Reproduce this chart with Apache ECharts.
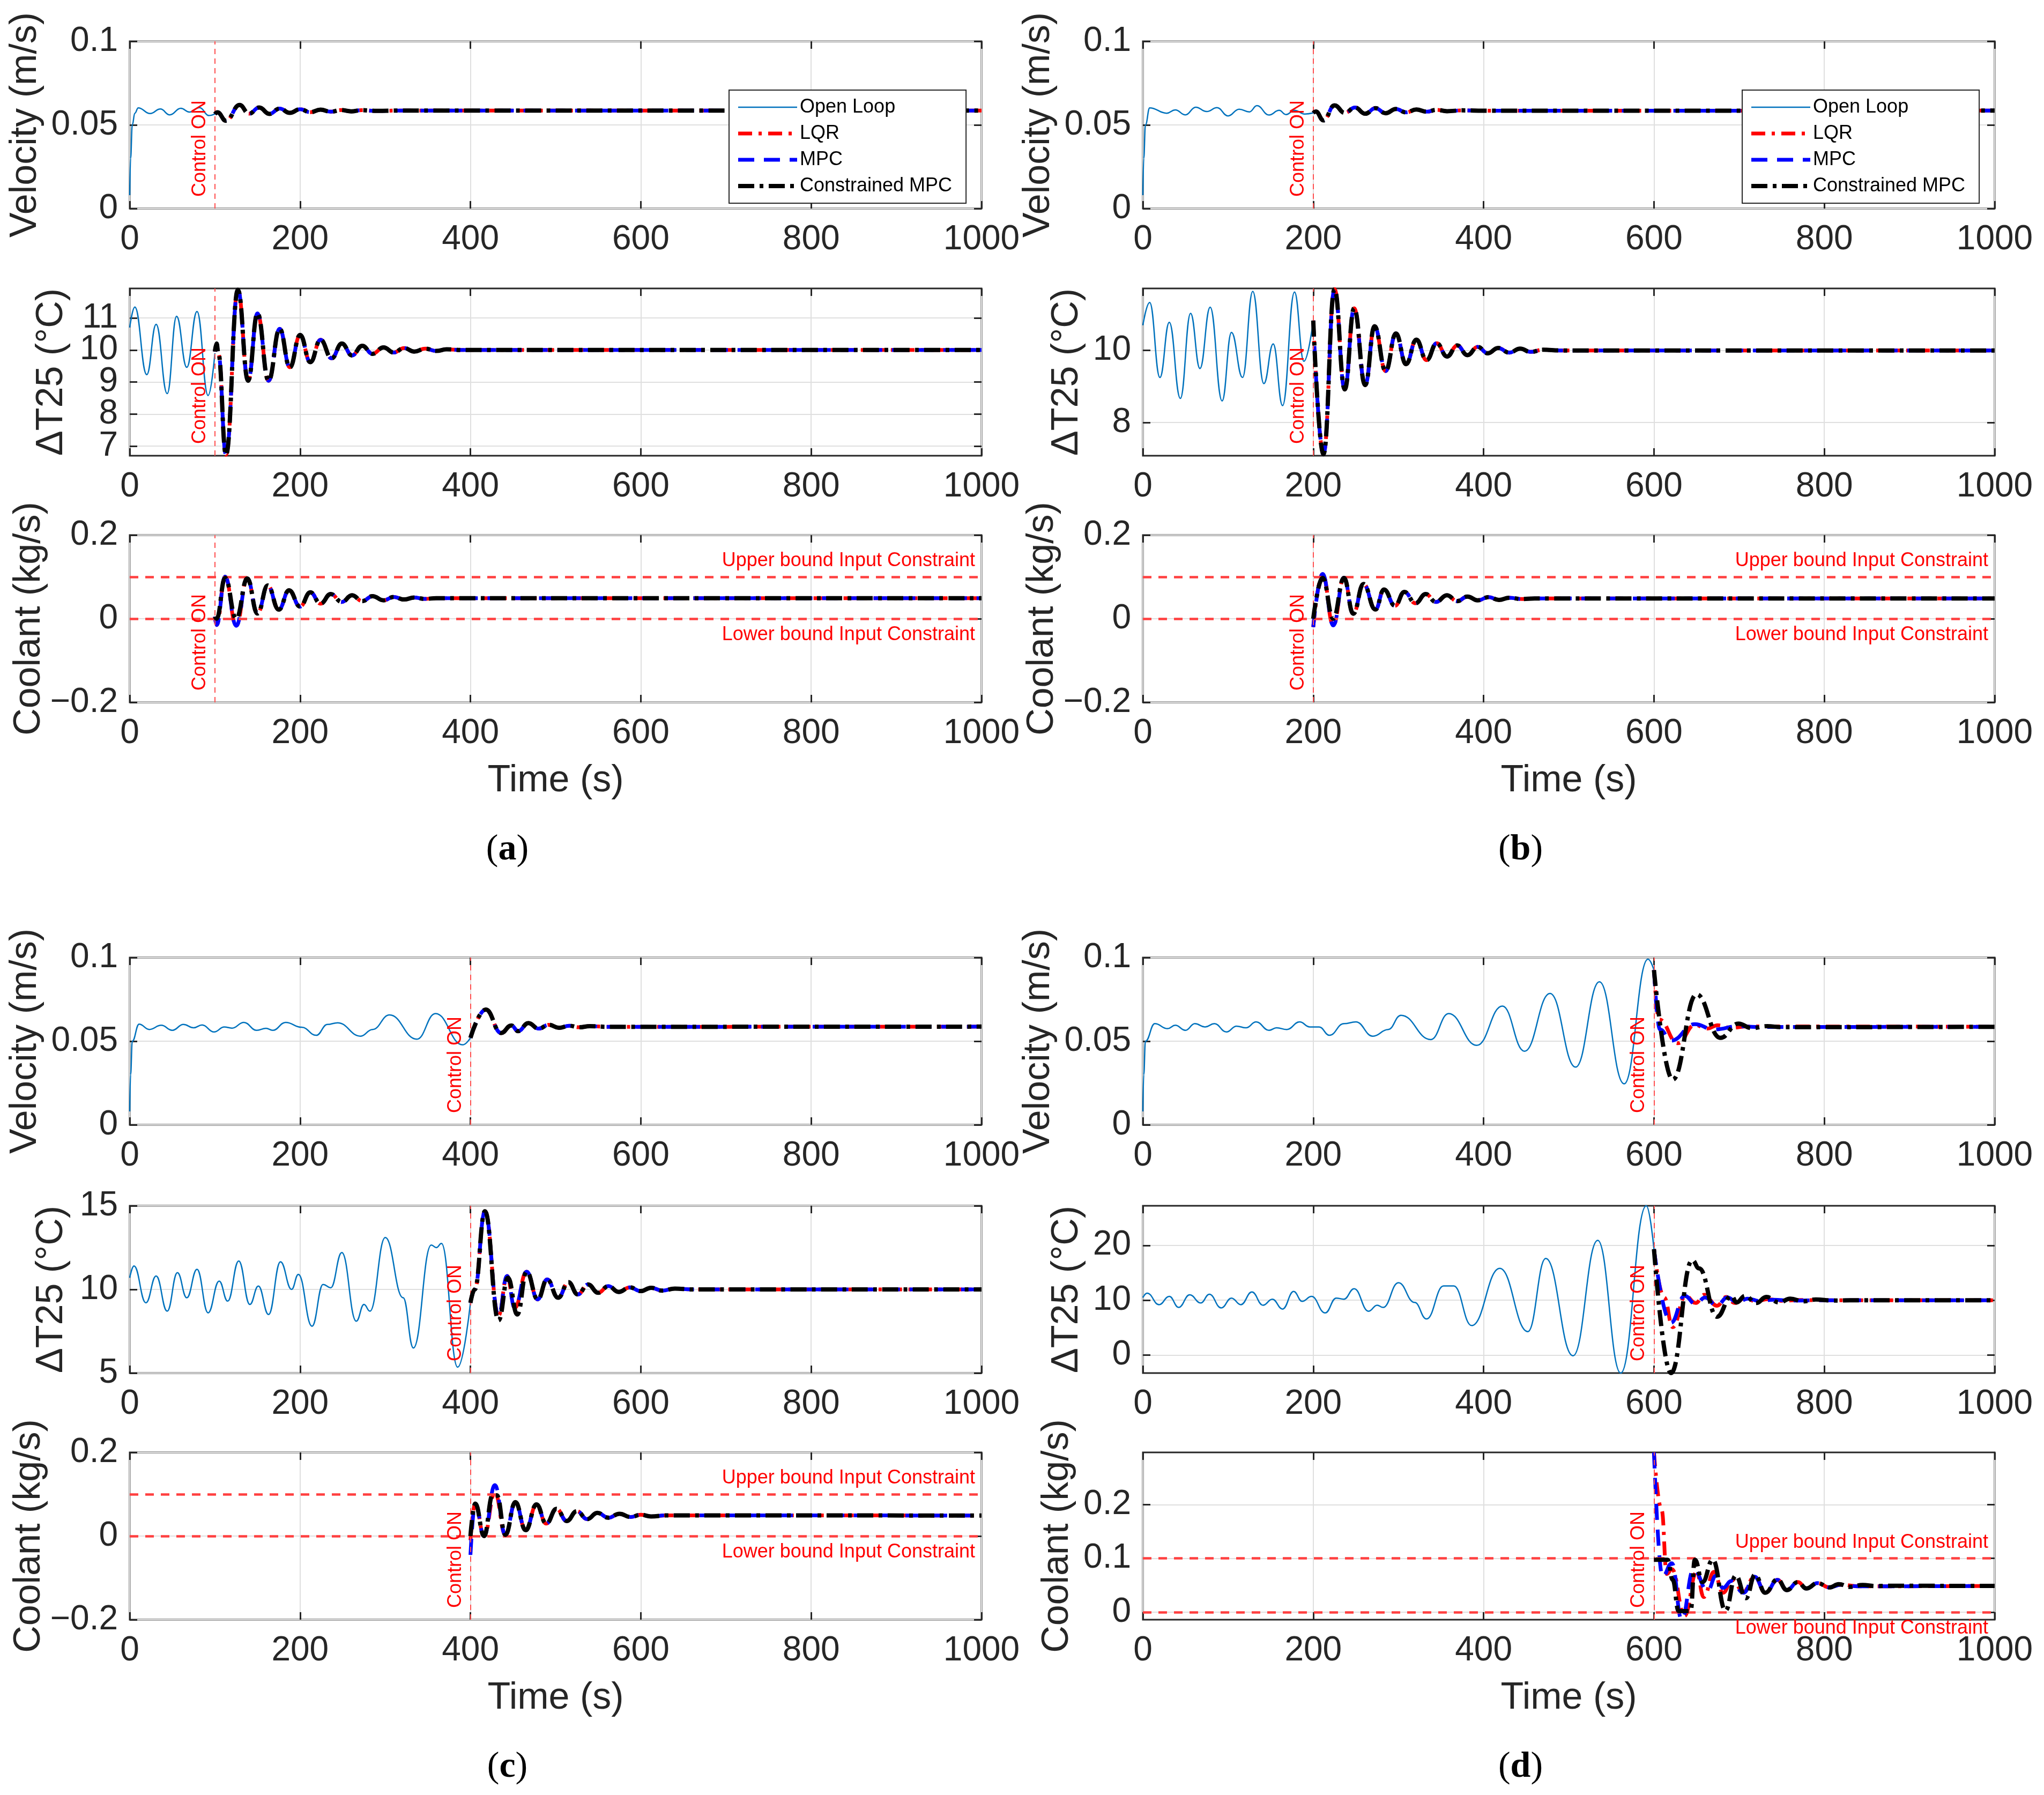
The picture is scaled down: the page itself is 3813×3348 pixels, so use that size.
<!DOCTYPE html>
<html>
<head>
<meta charset="utf-8">
<script src="https://cdn.jsdelivr.net/npm/echarts@6/dist/echarts.min.js"></script>
<style>html,body{margin:0;padding:0;background:#fff}#chart{width:3813px;height:3348px}</style>
</head>
<body>
<div id="chart"></div>
<script>
// ---------- values ([time s, value]) ----------
var timeTicks = [0, 200, 400, 600, 800, 1000]
var velTicks = [0, 0.05, 0.1]
var velRange = [0, 0.1]
var coolTicks = [-0.2, 0, 0.2]
var coolRange = [-0.2, 0.2]
var coolTicksD = [0, 0.1, 0.2]
var coolRangeD = [-0.014, 0.297]
var dtTicksA = [7, 8, 9, 10, 11]
var dtRangeA = [6.7, 11.92]
var dtTicksB = [8, 10]
var dtRangeB = [7.08, 11.72]
var dtTicksC = [5, 10, 15]
var dtRangeC = [5, 15]
var dtTicksD = [0, 10, 20]
var dtRangeD = [-3.25, 27.2]
var boundValues = [0.0975, 0]
var controlTimes = [100, 200, 400, 600]

// (a) control on at 100 s
var A_velOpen = [[0,0.008],[1,0.03],[3,0.05],[6,0.057],[10,0.0602],[24,0.0568],[36,0.0595],[47,0.056],[60,0.0599],[70,0.0577],[82,0.0603],[93,0.0556],[100,0.0565]]
var A_velCtrl = [[100,0.0565],[103,0.0575],[113,0.0525],[129,0.0619],[140,0.0567],[152,0.0604],[164,0.0566],[176,0.0598],[188,0.0572],[200,0.0594],[212,0.0576],[224,0.0591],[236,0.0579],[248,0.0589],[260,0.0581],[272,0.0588],[290,0.0584],[320,0.0586],[1000,0.0586]]
var A_dtOpen = [[0,10.7],[6,11.34],[20,9.23],[31,10.8],[44,8.64],[55,11.05],[67,9.46],[79,11.2],[92,8.58],[100,9.9]]
var A_dtCtrl = [[100,9.95],[102,10.2],[104,9.9],[113,6.73],[127,11.88],[139,9.04],[150,11.14],[163,9.04],[176,10.66],[188,9.46],[200,10.47],[212,9.62],[224,10.32],[237,9.74],[249,10.2],[261,9.83],[273,10.13],[285,9.88],[298,10.08],[310,9.92],[322,10.06],[334,9.95],[347,10.04],[360,9.97],[372,10.02],[390,10],[1000,10]]
var A_coolCtrl = [[100,0.005],[102,-0.015],[112,0.1006],[125,-0.017],[138,0.096],[150,0.0124],[162,0.0795],[175,0.0217],[187,0.068],[200,0.029],[212,0.063],[224,0.036],[236,0.059],[249,0.040],[261,0.056],[273,0.042],[285,0.054],[298,0.044],[310,0.052],[322,0.046],[334,0.0505],[346,0.0475],[360,0.049],[1000,0.049]]
var A_coolCons = [[100,0.005],[102,0],[112,0.0975],[125,0],[138,0.096],[150,0.0124],[162,0.0795],[175,0.0217],[187,0.068],[200,0.029],[212,0.063],[224,0.036],[236,0.059],[249,0.040],[261,0.056],[273,0.042],[285,0.054],[298,0.044],[310,0.052],[322,0.046],[334,0.0505],[346,0.0475],[360,0.049],[1000,0.049]]

// (b) control on at 200 s
var B_velOpen = [[0,0.008],[1,0.03],[3,0.05],[8,0.0602],[28,0.057],[38,0.059],[50,0.056],[62,0.0606],[75,0.058],[87,0.0603],[100,0.0554],[113,0.0594],[125,0.0578],[134,0.0615],[148,0.0559],[160,0.0587],[168,0.0562],[178,0.0587],[190,0.0565],[200,0.0572]]
var B_velCtrl = [[200,0.0572],[203,0.058],[212,0.0527],[225,0.0617],[237,0.0572],[249,0.0604],[261,0.0567],[273,0.06],[285,0.057],[297,0.0595],[309,0.0575],[321,0.0592],[333,0.0579],[345,0.059],[357,0.0582],[375,0.0587],[400,0.0585],[1000,0.0586]]
var B_dtOpen = [[0,10.7],[8,11.33],[20,9.25],[31,10.78],[44,8.67],[56,11.03],[67,9.5],[79,11.2],[93,8.6],[104,10.5],[117,9.25],[129,11.64],[142,9.08],[153,10.18],[164,8.47],[178,11.62],[189,9.7],[200,10.83]]
var B_dtCtrl = [[200,10.83],[212,7.12],[225,11.7],[237,8.92],[248,11.17],[261,9.04],[272,10.67],[285,9.43],[297,10.47],[309,9.62],[321,10.3],[333,9.73],[345,10.2],[357,9.83],[369,10.14],[381,9.87],[393,10.1],[405,9.92],[417,10.07],[430,9.94],[443,10.05],[455,9.96],[470,10.02],[490,10],[1000,10]]
var B_coolCtrl = [[200,-0.02],[211,0.107],[223.5,-0.016],[236,0.098],[247,0.012],[259,0.083],[273,0.022],[283,0.070],[296,0.031],[307,0.064],[320,0.037],[332,0.059],[344,0.040],[357,0.056],[369,0.042],[381,0.053],[393,0.044],[406,0.0515],[418,0.045],[430,0.05],[445,0.047],[460,0.0485],[1000,0.0485]]
var B_coolCons = [[200,0],[211,0.0975],[223.5,0],[236,0.0975],[247,0.012],[259,0.083],[273,0.022],[283,0.070],[296,0.031],[307,0.064],[320,0.037],[332,0.059],[344,0.040],[357,0.056],[369,0.042],[381,0.053],[393,0.044],[406,0.0515],[418,0.045],[430,0.05],[445,0.047],[460,0.0485],[1000,0.0485]]

// (c) control on at 400 s
var C_velOpen = [[0,0.008],[1,0.03],[3,0.05],[11,0.0602],[23,0.057],[37,0.0595],[50,0.0565],[63,0.06],[75,0.058],[85,0.0597],[99,0.0555],[111,0.0585],[120,0.0578],[134,0.0612],[149,0.0565],[160,0.0577],[168,0.0565],[183,0.0612],[202,0.0583],[219,0.0535],[232,0.06],[244,0.061],[271,0.053],[285,0.057],[305,0.0657],[337,0.0512],[359,0.0665],[391,0.0478],[400,0.052]]
var C_velCtrl = [[400,0.052],[418,0.0689],[436,0.0549],[448,0.0594],[456,0.056],[468,0.0608],[480,0.0575],[492,0.0598],[504,0.058],[516,0.0592],[528,0.0583],[540,0.059],[560,0.0586],[1000,0.0587]]
var C_dtOpen = [[0,10.7],[5,11.4],[19,9.2],[31,10.8],[44,8.7],[56,11.0],[67,9.5],[79,11.2],[92,8.6],[105,10.5],[115,9.3],[128,11.7],[141,9.1],[151,10.2],[163,8.5],[177,11.65],[190,10.0],[198,10.9],[214,7.8],[227,10.3],[236,10.1],[249,12.2],[266,8.1],[275,9.1],[282,8.7],[300,13.1],[321,9.5],[333,6.5],[354,12.65],[360,12.5],[366,12.75],[385,5.35],[400,9.2]]
var C_dtCtrl = [[400,9.2],[405,10.0],[417,14.67],[433,8.45],[443,10.8],[452,8.9],[466,11.06],[479,9.4],[490,10.6],[503,9.5],[515,10.43],[526,9.7],[538,10.3],[550,9.8],[562,10.2],[574,9.85],[587,10.12],[600,9.9],[612,10.1],[625,9.93],[640,10.05],[660,10],[1000,10]]
var C_dtCons = [[400,9.2],[405,10.0],[417,14.67],[433,8.15],[444,10.7],[455,8.5],[466,11.06],[479,9.4],[490,10.6],[503,9.5],[515,10.43],[526,9.7],[538,10.3],[550,9.8],[562,10.2],[574,9.85],[587,10.12],[600,9.9],[612,10.1],[625,9.93],[640,10.05],[660,10],[1000,10]]
var C_coolLqr = [[400,-0.01],[405.6,0.0776],[416,0.0],[428.7,0.104],[441,0.003],[452.7,0.081],[464.8,0.014],[477.5,0.0755],[489,0.0297],[501,0.0652],[513,0.036],[525,0.0597],[537,0.0404],[549,0.0554],[562,0.0438],[575,0.0532],[588,0.0455],[600,0.051],[612,0.0468],[630,0.0495],[1000,0.049]]
var C_coolMpc = [[400,-0.045],[405.6,0.0776],[416,0.0],[428.7,0.1217],[441,0.003],[452.7,0.081],[464.8,0.014],[477.5,0.0755],[489,0.0297],[501,0.0652],[513,0.036],[525,0.0597],[537,0.0404],[549,0.0554],[562,0.0438],[575,0.0532],[588,0.0455],[600,0.051],[612,0.0468],[630,0.0495],[1000,0.049]]
var C_coolCons = [[400,0.0],[405.6,0.0776],[416,0.0],[426,0.0975],[431,0.0975],[441,0.003],[452.7,0.081],[464.8,0.014],[477.5,0.0755],[489,0.0297],[501,0.0652],[513,0.036],[525,0.0597],[537,0.0404],[549,0.0554],[562,0.0438],[575,0.0532],[588,0.0455],[600,0.051],[612,0.0468],[630,0.0495],[1000,0.049]]

// (d) control on at 600 s
var D_velOpen = [[0,0.008],[1,0.03],[3,0.05],[14,0.0605],[29,0.0575],[38,0.0595],[50,0.0565],[61,0.0605],[73,0.0585],[84,0.0605],[98,0.0555],[110,0.059],[121,0.058],[133,0.0615],[148,0.0565],[157,0.058],[169,0.057],[184,0.0615],[196,0.0585],[207,0.0585],[219,0.0535],[236,0.0605],[250,0.0615],[270,0.053],[288,0.057],[303,0.0655],[338,0.051],[359,0.0665],[392,0.0475],[422,0.071],[448,0.044],[478,0.0785],[508,0.0345],[536,0.0855],[565,0.0245],[593,0.099],[600,0.0925]]
var D_velLqr = [[600,0.0925],[606,0.063],[628,0.0488],[648,0.0597],[662,0.0575],[675,0.0595],[690,0.058],[710,0.0588],[1000,0.0586]]
var D_velMpc = [[600,0.0925],[607,0.057],[620,0.0503],[648,0.0602],[670,0.057],[700,0.059],[720,0.0585],[1000,0.0586]]
var D_velCons = [[600,0.0925],[622,0.027],[650,0.078],[678,0.052],[699,0.0605],[715,0.0578],[733,0.059],[750,0.0584],[1000,0.0586]]
var D_dtOpen = [[0,10.5],[5,11.3],[19,9.2],[31,10.7],[42,8.7],[55,11.0],[68,9.5],[78,11.1],[92,8.6],[104,10.4],[115,9.2],[128,11.5],[141,9.1],[152,10.2],[164,8.4],[177,11.6],[187,9.8],[198,10.7],[214,7.7],[227,10.4],[236,10.2],[248,12.1],[265,8.0],[275,9.1],[282,8.7],[300,13.2],[319,9.6],[333,6.6],[353,12.6],[365,12.6],[386,5.4],[419,15.8],[452,4.3],[473,17.6],[505,-0.1],[534,20.9],[561,-3.25],[591,27.2],[600,19.3]]
var D_dtLqr = [[600,19.3],[612,10.5],[622,5.1],[637,10.8],[649,9.5],[659,11.0],[674,9.0],[685,10.6],[695,9.5],[707,10.4],[720,9.8],[733,10.2],[750,9.9],[770,10.05],[800,10],[1000,10]]
var D_dtMpc = [[600,19.3],[620,5.9],[636,10.8],[649,9.3],[660,10.5],[674,9.0],[686,10.5],[698,9.6],[710,10.3],[725,9.85],[740,10.1],[760,9.95],[800,10],[1000,10]]
var D_dtCons = [[600,19.3],[620,-3.25],[645,17.3],[653,15.8],[674,7.0],[691,10.8],[697,9.6],[707,10.8],[720,9.5],[732,10.6],[747,9.6],[760,10.3],[775,9.8],[790,10.15],[810,9.95],[830,10],[1000,10]]
var D_coolLqr = [[600,0.297],[609,0.19],[615,0.071],[621,0.08],[636,-0.007],[650,0.0745],[658.5,0.028],[670.5,0.075],[681,0.036],[692,0.06],[705,0.038],[718,0.066],[731,0.036],[745,0.06],[756,0.041],[769,0.056],[779,0.044],[792,0.054],[806,0.046],[820,0.051],[840,0.048],[1000,0.0487]]
var D_coolMpc = [[600,0.297],[610,0.066],[621,0.091],[632.5,-0.014],[646.5,0.0795],[663,0.04],[673,0.068],[681,0.045],[691,0.058],[705,0.036],[718,0.066],[731,0.036],[745,0.06],[756,0.041],[769,0.056],[779,0.044],[792,0.054],[806,0.046],[820,0.051],[840,0.048],[1000,0.0487]]
var D_coolCons = [[600,0.0975],[616,0.0975],[622,0.06],[629,0.002],[643,0.002],[648,0.0975],[657,0.056],[669,0.0975],[684,0.003],[696,0.068],[708,0.026],[718.6,0.0695],[730.7,0.036],[745,0.061],[756,0.041],[769,0.056],[779,0.044],[792,0.054],[806,0.046],[817,0.052],[830,0.047],[845,0.0505],[860,0.0485],[880,0.049],[1000,0.0487]]

// ---------- layout / styles ----------
var FONT = '"Liberation Sans", Arial, Helvetica, sans-serif'
var INK = '#262626'
var colLeft = [242, 2132]
var plotW = 1589
var plotH = 312
var rowTops = [[77, 538, 998], [1786, 2249, 2709]]
var ST = {
	open: {color: '#0072BD', width: 2.5, type: 'solid'},
	lqr: {color: '#ff0000', width: 7, type: [26, 12, 6, 12]},
	mpc: {color: '#0000ff', width: 7, type: [30, 18]},
	cons: {color: '#000000', width: 8, type: [30, 10, 7, 10]}
}

var panels = [
	{tag: 'a', col: 0, half: 0, ctrl: controlTimes[0], legend: true,
		vel: {open: A_velOpen, lqr: A_velCtrl, mpc: A_velCtrl, cons: A_velCtrl},
		dt: {open: A_dtOpen, lqr: A_dtCtrl, mpc: A_dtCtrl, cons: A_dtCtrl, range: dtRangeA, ticks: dtTicksA, gap: 110},
		cool: {lqr: A_coolCtrl, mpc: A_coolCtrl, cons: A_coolCons, range: coolRange, ticks: coolTicks, gap: 152}},
	{tag: 'b', col: 1, half: 0, ctrl: controlTimes[1], legend: true,
		vel: {open: B_velOpen, lqr: B_velCtrl, mpc: B_velCtrl, cons: B_velCtrl},
		dt: {open: B_dtOpen, lqr: B_dtCtrl, mpc: B_dtCtrl, cons: B_dtCtrl, range: dtRangeB, ticks: dtTicksB, gap: 106},
		cool: {lqr: B_coolCtrl, mpc: B_coolCtrl, cons: B_coolCons, range: coolRange, ticks: coolTicks, gap: 152}},
	{tag: 'c', col: 0, half: 1, ctrl: controlTimes[2], legend: false,
		vel: {open: C_velOpen, lqr: C_velCtrl, mpc: C_velCtrl, cons: C_velCtrl},
		dt: {open: C_dtOpen, lqr: C_dtCtrl, mpc: C_dtCtrl, cons: C_dtCons, range: dtRangeC, ticks: dtTicksC, gap: 110},
		cool: {lqr: C_coolLqr, mpc: C_coolMpc, cons: C_coolCons, range: coolRange, ticks: coolTicks, gap: 152}},
	{tag: 'd', col: 1, half: 1, ctrl: controlTimes[3], legend: false,
		vel: {open: D_velOpen, lqr: D_velLqr, mpc: D_velMpc, cons: D_velCons},
		dt: {open: D_dtOpen, lqr: D_dtLqr, mpc: D_dtMpc, cons: D_dtCons, range: dtRangeD, ticks: dtTicksD, gap: 106},
		cool: {lqr: D_coolLqr, mpc: D_coolMpc, cons: D_coolCons, range: coolRangeD, ticks: coolTicksD, gap: 124}}
]

function fmt(v){
	var s = String(Math.round(v * 1000) / 1000)
	return s.replace('-', '\u2212')
}

var grids = [], xAxes = [], yAxes = [], series = [], legends = [], graphics = []

function yLabel(values){
	return {customValues: values, fontSize: 64, color: INK, fontFamily: FONT, margin: 22,
		interval: 0, showMinLabel: true, showMaxLabel: true, hideOverlap: false, formatter: fmt}
}

function addGrid(left, top, range, ticks, yName, yGap, xName){
	var gi = grids.length
	grids.push({left: left, top: top, width: plotW, height: plotH, show: true,
		borderColor: INK, borderWidth: 3, backgroundColor: '#fff'})
	var tick = {show: true, inside: true, length: 14, lineStyle: {color: INK, width: 3}}
	xAxes.push({type: 'value', gridIndex: gi, min: 0, max: 1000, position: 'bottom',
		axisLine: {show: false, onZero: false},
		axisTick: Object.assign({customValues: timeTicks}, tick),
		axisLabel: {customValues: timeTicks, fontSize: 64, color: INK, fontFamily: FONT, margin: 26,
			interval: 0, showMinLabel: true, showMaxLabel: true, hideOverlap: false,
			formatter: function(v){ return String(v) }},
		splitLine: {show: true, lineStyle: {color: '#dfdfdf', width: 2}},
		name: xName || '', nameLocation: 'middle', nameGap: 112,
		nameTextStyle: {fontSize: 70, color: INK, fontFamily: FONT}})
	xAxes.push({type: 'value', gridIndex: gi, min: 0, max: 1000, position: 'top',
		axisLine: {show: false, onZero: false},
		axisTick: Object.assign({customValues: timeTicks}, tick),
		axisLabel: {show: false}, splitLine: {show: false}})
	// close tick labels are split over two left axes so none gets dropped
	var evenTicks = ticks.filter(function(v, i){ return i % 2 === 0 })
	var oddTicks = ticks.filter(function(v, i){ return i % 2 === 1 })
	yAxes.push({type: 'value', gridIndex: gi, min: range[0], max: range[1], position: 'left',
		axisLine: {show: false, onZero: false},
		axisTick: Object.assign({customValues: ticks}, tick),
		axisLabel: yLabel(evenTicks),
		splitLine: {show: true, lineStyle: {color: '#dfdfdf', width: 2}},
		name: yName, nameLocation: 'middle', nameGap: yGap,
		nameTextStyle: {fontSize: 70, color: INK, fontFamily: FONT}})
	yAxes.push({type: 'value', gridIndex: gi, min: range[0], max: range[1], position: 'right',
		axisLine: {show: false, onZero: false},
		axisTick: Object.assign({customValues: ticks}, tick),
		axisLabel: {show: false}, splitLine: {show: false}})
	yAxes.push({type: 'value', gridIndex: gi, min: range[0], max: range[1], position: 'left', offset: 0,
		axisLine: {show: false, onZero: false}, axisTick: {show: false},
		axisLabel: oddTicks.length ? yLabel(oddTicks) : {show: false},
		splitLine: {show: false}})
	return gi
}

function line(name, data, gi, st, z, markLine){
	var s = {
		name: name, type: 'line', data: data,
		xAxisIndex: gi * 2, yAxisIndex: gi * 3,
		symbol: 'none', smooth: 0.45, smoothMonotone: 'x', clip: true,
		animation: false, z: z,
		lineStyle: {color: st.color, width: st.width, type: st.type},
		itemStyle: {color: st.color}
	}
	if (markLine) s.markLine = markLine
	series.push(s)
}

function ctrlItem(t){
	return {xAxis: t,
		lineStyle: {color: '#ff5050', width: 2, type: [10, 8]},
		label: {show: true, formatter: 'Control ON', position: 'insideStartTop', distance: [22, 10],
			color: '#ff0000', fontSize: 36, fontFamily: FONT}}
}

function boundItem(v, text, pos){
	return {yAxis: v,
		lineStyle: {color: '#ff4040', width: 4.5, type: [16, 13]},
		label: {show: true, formatter: text, position: pos, distance: 12,
			color: '#ff0000', fontSize: 36, fontFamily: FONT}}
}

function marks(items){
	return {silent: true, symbol: ['none', 'none'], animation: false, data: items}
}

function legendItem(name, st){
	return {name: name, itemStyle: {opacity: 0},
		lineStyle: {color: st.color, width: st.width, type: st.type}}
}

panels.forEach(function(p){
	var left = colLeft[p.col]
	var tops = rowTops[p.half]
	// velocity
	var g = addGrid(left, tops[0], velRange, velTicks, 'Velocity (m/s)', 159)
	line('Open Loop', p.vel.open, g, ST.open, 2, marks([ctrlItem(p.ctrl)]))
	line('LQR', p.vel.lqr, g, ST.lqr, 3)
	line('MPC', p.vel.mpc, g, ST.mpc, 4)
	line('Constrained MPC', p.vel.cons, g, ST.cons, 5)
	// temperature difference
	g = addGrid(left, tops[1], p.dt.range, p.dt.ticks, '\u0394T25 (\u00b0C)', p.dt.gap)
	line('Open Loop', p.dt.open, g, ST.open, 2, marks([ctrlItem(p.ctrl)]))
	line('LQR', p.dt.lqr, g, ST.lqr, 3)
	line('MPC', p.dt.mpc, g, ST.mpc, 4)
	line('Constrained MPC', p.dt.cons, g, ST.cons, 5)
	// coolant flow
	g = addGrid(left, tops[2], p.cool.range, p.cool.ticks, 'Coolant (kg/s)', p.cool.gap, 'Time (s)')
	line('LQR', p.cool.lqr, g, ST.lqr, 3, marks([
		ctrlItem(p.ctrl),
		boundItem(boundValues[0], 'Upper bound Input Constraint', 'insideEndTop'),
		boundItem(boundValues[1], 'Lower bound Input Constraint', 'insideEndBottom')
	]))
	line('MPC', p.cool.mpc, g, ST.mpc, 4)
	line('Constrained MPC', p.cool.cons, g, ST.cons, 5)

	if (p.legend){
		legends.push({
			orient: 'vertical', left: left + 1118, top: 91 + tops[0], z: 20,
			data: [legendItem('Open Loop', ST.open), legendItem('LQR', ST.lqr),
				legendItem('MPC', ST.mpc), legendItem('Constrained MPC', ST.cons)],
			backgroundColor: '#fff', borderColor: INK, borderWidth: 2,
			padding: [14, 26, 14, 13], itemWidth: 110, itemHeight: 34, itemGap: 13,
			selectedMode: false, itemStyle: {opacity: 0},
			textStyle: {fontSize: 36, color: '#000', fontFamily: FONT, lineHeight: 36}
		})
	}
	graphics.push({type: 'text', x: left + plotW / 2 - 90, y: p.half ? 3296 : 1585,
		style: {text: '({b|' + p.tag + '})', align: 'center', verticalAlign: 'middle',
			fontSize: 68, fontFamily: '"Liberation Serif", "Times New Roman", serif', fill: '#000',
			rich: {b: {fontSize: 68, fontWeight: 'bold', fontFamily: '"Liberation Serif", serif', fill: '#000'}}}})
})

var chart = echarts.init(document.getElementById('chart'), null, {renderer: 'canvas'})
chart.setOption({
	backgroundColor: '#fff',
	animation: false,
	grid: grids,
	xAxis: xAxes,
	yAxis: yAxes,
	legend: legends,
	series: series,
	graphic: graphics
})
</script>
</body>
</html>
